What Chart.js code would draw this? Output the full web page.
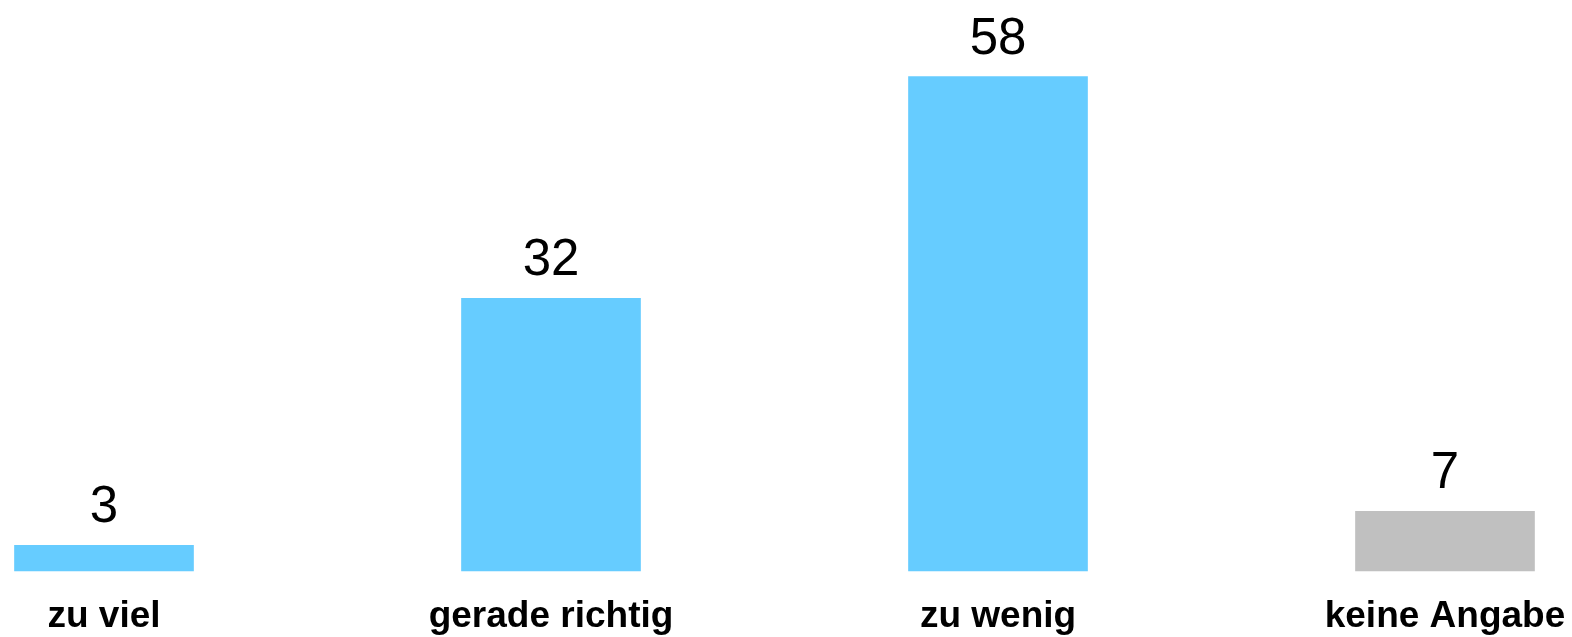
<!DOCTYPE html>
<html>
<head>
<meta charset="utf-8">
<script src="https://cdn.jsdelivr.net/npm/chart.js@4"></script>
<style>
  html, body { margin: 0; padding: 0; background: #fff; }
  #wrap { width: 1572px; height: 637px; }
</style>
</head>
<body>
<div id="wrap"><canvas id="chart"></canvas></div>
<script>
const categories = ['zu viel', 'gerade richtig', 'zu wenig', 'keine Angabe'];
const values = [3, 32, 58, 7];
const barColors = ['#66CCFF', '#66CCFF', '#66CCFF', '#C0C0C0'];

// numbers above the bars
const valueLabels = {
    id: 'valueLabels',
    afterDatasetsDraw(chart) {
        let ctx = chart.ctx;
        let meta = chart.getDatasetMeta(0);
        ctx.save();
        ctx.font = '51px "Liberation Sans", Arial, sans-serif';
        ctx.fillStyle = '#000';
        ctx.textAlign = 'center';
        ctx.textBaseline = 'alphabetic';
        meta.data.forEach((bar, i) => {
            ctx.fillText(String(values[i]), bar.x, bar.y - 23);
        });
        ctx.restore();
    }
};

new Chart(document.getElementById('chart'), {
    type: 'bar',
    data: {
        labels: categories,
        datasets: [{
            data: values,
            backgroundColor: barColors,
            borderWidth: 0,
            barThickness: 179,
            clip: false
        }]
    },
    options: {
        responsive: true,
        maintainAspectRatio: false,
        animation: false,
        layout: { padding: { left: 104, right: 127, top: 0, bottom: 0 } },
        plugins: { legend: { display: false }, tooltip: { enabled: false } },
        scales: {
            x: {
                offset: false,
                grid: { display: false, drawTicks: false },
                border: { display: false },
                afterFit(scale) {
                    scale.height = 66;
                    scale.paddingLeft = 0;
                    scale.paddingRight = 0;
                },
                ticks: {
                    color: '#000',
                    padding: 24,
                    maxRotation: 0,
                    autoSkip: false,
                    font: { family: '"Liberation Sans", Arial, sans-serif', size: 37, weight: 'bold' }
                }
            },
            y: {
                display: false,
                min: 0,
                max: 67
            }
        }
    },
    plugins: [valueLabels]
});
</script>
</body>
</html>
